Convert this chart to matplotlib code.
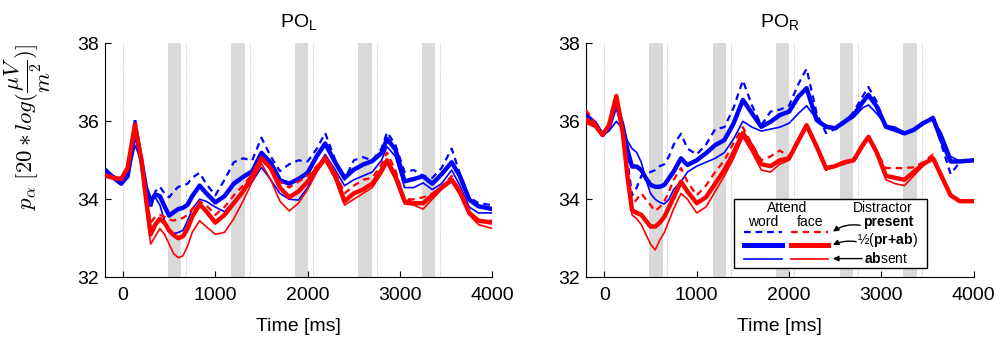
import matplotlib
matplotlib.use("Agg")
import matplotlib.pyplot as plt
import numpy as np

plt.rcParams['font.family'] = ['Liberation Sans', 'DejaVu Sans']
plt.rcParams['mathtext.fontset'] = 'custom'
plt.rcParams['mathtext.rm'] = 'Liberation Sans'
plt.rcParams['mathtext.bf'] = 'Liberation Sans:bold'
plt.rcParams['mathtext.it'] = 'Liberation Sans:italic'

# ---------------- data ----------------
time_ms = [-200, -100, -20, 50, 130, 200, 250, 300, 350, 400, 450, 500, 550, 600, 650, 700, 750, 830, 900,
           1000, 1100, 1200, 1300, 1400, 1500, 1600, 1700, 1800, 1900, 2000, 2100, 2190, 2300, 2400, 2500,
           2600, 2700, 2800, 2860, 2950, 3050, 3150, 3250, 3350, 3450, 3560, 3650, 3750, 3850, 4000]

# PO_L
L_word_present = [34.80, 34.60, 34.42, 34.64, 36.09, 35.11, 34.25, 33.75, 34.20, 34.32, 34.15, 34.05, 34.20, 34.32,
                  34.35, 34.40, 34.55, 34.68, 34.40, 34.10, 34.50, 34.95, 35.05, 35.00, 35.58, 35.10, 34.72, 34.90,
                  35.00, 34.97, 35.30, 35.70, 35.00, 34.50, 35.00, 35.08, 35.00, 35.30, 35.72, 35.40, 34.70, 34.75,
                  34.60, 34.55, 34.80, 35.30, 34.65, 34.05, 33.90, 33.85]
L_word_mean = [34.76, 34.55, 34.40, 34.59, 35.79, 34.98, 34.29, 33.95, 34.12, 34.08, 33.82, 33.58, 33.67, 33.75,
               33.78, 33.86, 34.08, 34.35, 34.16, 33.92, 34.08, 34.40, 34.57, 34.72, 35.19, 34.94, 34.49, 34.40,
               34.52, 34.68, 35.11, 35.43, 34.94, 34.55, 34.76, 34.89, 34.98, 35.19, 35.55, 35.28, 34.46, 34.52,
               34.59, 34.40, 34.64, 34.95, 34.59, 33.99, 33.82, 33.75]
L_word_absent = [34.78, 34.55, 34.42, 34.55, 35.38, 35.00, 34.30, 34.00, 34.05, 33.85, 33.45, 33.20, 33.12, 33.15,
                 33.20, 33.45, 33.75, 34.00, 33.95, 33.80, 33.68, 33.95, 34.20, 34.45, 34.82, 34.50, 34.15, 34.00,
                 33.98, 34.30, 34.80, 35.15, 34.75, 34.35, 34.50, 34.60, 34.70, 35.00, 35.35, 35.10, 34.30, 34.30,
                 34.42, 34.25, 34.40, 34.75, 34.35, 33.80, 33.65, 33.65]
L_face_present = [34.60, 34.50, 34.50, 34.80, 35.90, 35.00, 34.10, 33.40, 33.55, 33.60, 33.55, 33.48, 33.45, 33.50,
                  33.52, 33.60, 33.75, 33.95, 33.85, 33.60, 33.80, 34.10, 34.35, 34.65, 35.10, 34.80, 34.45, 34.30,
                  34.45, 34.60, 34.85, 35.10, 34.70, 34.15, 34.35, 34.50, 34.55, 34.90, 35.20, 34.75, 34.00, 34.00,
                  34.05, 34.15, 34.30, 34.60, 34.20, 33.65, 33.45, 33.45]
L_face_mean = [34.62, 34.55, 34.52, 34.80, 35.92, 35.00, 34.00, 33.10, 33.35, 33.50, 33.40, 33.20, 33.08, 33.00,
               33.05, 33.25, 33.55, 33.87, 33.70, 33.40, 33.60, 33.90, 34.20, 34.60, 35.05, 34.80, 34.30, 34.05,
               34.20, 34.45, 34.80, 35.05, 34.60, 33.95, 34.15, 34.25, 34.40, 34.75, 35.00, 34.60, 33.95, 33.90,
               33.90, 34.10, 34.30, 34.50, 34.20, 33.65, 33.45, 33.40]
L_face_absent = [34.65, 34.55, 34.50, 34.75, 35.90, 34.95, 33.80, 32.85, 33.05, 33.25, 33.10, 32.85, 32.60, 32.50,
                 32.55, 32.80, 33.15, 33.45, 33.30, 33.10, 33.15, 33.50, 33.95, 34.45, 34.92, 34.50, 33.95, 33.70,
                 33.90, 34.25, 34.70, 35.00, 34.50, 33.85, 34.00, 34.15, 34.30, 34.65, 34.92, 34.50, 33.88, 33.85,
                 33.75, 34.00, 34.25, 34.45, 34.10, 33.60, 33.35, 33.25]

# PO_R
R_word_present = [36.15, 35.95, 35.65, 35.88, 36.62, 35.90, 35.00, 34.10, 34.30, 34.60, 34.65, 34.70, 34.75, 34.85,
                  34.90, 35.10, 35.40, 35.68, 35.30, 35.15, 35.40, 35.80, 35.85, 36.35, 37.05, 36.40, 35.90, 36.25,
                  36.30, 36.40, 36.95, 37.35, 36.20, 35.70, 35.80, 35.95, 36.25, 36.65, 36.88, 36.50, 35.85, 35.78,
                  35.70, 35.80, 35.95, 36.12, 35.40, 34.65, 34.95, 35.00]
R_word_mean = [36.16, 35.95, 35.65, 35.86, 36.46, 35.86, 35.26, 34.84, 34.84, 34.75, 34.54, 34.37, 34.32, 34.32,
               34.37, 34.54, 34.71, 35.05, 34.88, 35.00, 35.18, 35.39, 35.52, 35.95, 36.55, 36.20, 35.86, 35.99,
               36.16, 36.25, 36.63, 36.85, 36.03, 35.86, 35.82, 35.99, 36.16, 36.50, 36.68, 36.38, 35.86, 35.78,
               35.69, 35.78, 35.95, 36.08, 35.52, 34.97, 34.97, 35.00]
R_word_absent = [36.15, 35.95, 35.65, 35.75, 36.00, 35.80, 35.50, 35.30, 35.20, 34.95, 34.50, 34.15, 34.00, 33.92,
                 33.88, 34.00, 34.25, 34.45, 34.70, 34.85, 34.95, 35.05, 35.20, 35.55, 36.00, 35.85, 35.75, 35.80,
                 35.85, 35.95, 36.20, 36.40, 36.05, 35.90, 35.85, 35.95, 36.10, 36.35, 36.42, 36.20, 35.90, 35.85,
                 35.72, 35.75, 35.95, 36.05, 35.70, 35.10, 34.98, 35.00]
R_face_present = [36.30, 35.95, 35.62, 35.90, 36.60, 35.70, 34.70, 33.85, 34.00, 34.15, 34.00, 33.85, 33.70, 33.80,
                  33.95, 34.20, 34.50, 34.80, 34.45, 34.10, 34.35, 34.70, 35.00, 35.45, 35.85, 35.40, 35.00, 35.10,
                  35.25, 35.10, 35.55, 35.90, 35.30, 34.75, 34.85, 34.95, 35.05, 35.35, 35.55, 35.20, 34.80, 34.80,
                  34.80, 34.82, 34.95, 35.15, 34.60, 34.10, 33.95, 33.95]
R_face_mean = [36.05, 35.90, 35.65, 35.90, 36.65, 35.70, 34.60, 33.72, 33.65, 33.60, 33.45, 33.30, 33.30, 33.40,
               33.55, 33.80, 34.05, 34.45, 34.20, 33.90, 34.05, 34.40, 34.75, 35.20, 35.70, 35.35, 34.90, 34.85,
               35.00, 35.05, 35.50, 35.90, 35.35, 34.80, 34.85, 34.95, 35.00, 35.40, 35.60, 35.20, 34.60, 34.55,
               34.50, 34.70, 34.90, 35.05, 34.60, 34.10, 33.95, 33.95]
R_face_absent = [35.95, 35.85, 35.62, 35.88, 36.62, 35.60, 34.40, 33.60, 33.50, 33.35, 33.10, 32.85, 32.70, 32.95,
                 33.15, 33.45, 33.75, 34.15, 34.00, 33.65, 33.80, 34.20, 34.60, 35.05, 35.60, 35.20, 34.75, 34.70,
                 34.90, 35.00, 35.45, 35.85, 35.30, 34.75, 34.85, 34.90, 35.00, 35.35, 35.60, 35.15, 34.50, 34.40,
                 34.35, 34.60, 34.85, 35.05, 34.60, 34.10, 33.95, 33.95]

band_starts = [485, 1175, 1860, 2548, 3237]
band_width = 145
onset_lines = [0, 682, 1372, 2058, 2746, 3435]

panel_titles = [r'PO$_{\mathregular{L}}$', r'PO$_{\mathregular{R}}$']
x_ticks = [0, 1000, 2000, 3000, 4000]
y_ticks = [32, 34, 36, 38]

# ---------------- figure ----------------
fig = plt.figure(figsize=(10, 3.5), dpi=100)
ax_l = fig.add_axes([0.1045, 0.208, 0.3878, 0.668])
ax_r = fig.add_axes([0.5859, 0.208, 0.3878, 0.668])

panels = [
    (ax_l, L_word_present, L_word_mean, L_word_absent, L_face_present, L_face_mean, L_face_absent),
    (ax_r, R_word_present, R_word_mean, R_word_absent, R_face_present, R_face_mean, R_face_absent),
]

BLUE = '#0000ff'
RED = '#ff0000'
dash = (0, (3.0, 2.2))

for i, (ax, wp, wm, wa, fp, fm, fa) in enumerate(panels):
    for s in band_starts:
        ax.axvspan(s, s + band_width, color='#d9d9d9', lw=0, zorder=0)
    for v in onset_lines:
        ax.axvline(v, color='#c8c8c8', lw=0.8, ls=(0, (1, 1)), zorder=0.5)
    ax.plot(time_ms, wp, color=BLUE, lw=1.6, ls=dash, zorder=2)
    ax.plot(time_ms, wa, color=BLUE, lw=1.2, zorder=2)
    ax.plot(time_ms, wm, color=BLUE, lw=3.2, zorder=3)
    ax.plot(time_ms, fp, color=RED, lw=1.6, ls=dash, zorder=4)
    ax.plot(time_ms, fa, color=RED, lw=1.2, zorder=4)
    ax.plot(time_ms, fm, color=RED, lw=3.2, zorder=5)

    ax.set_xlim(-200, 4000)
    ax.set_ylim(32, 38)
    ax.set_xticks(x_ticks)
    ax.set_yticks(y_ticks)
    ax.spines['top'].set_visible(False)
    ax.spines['right'].set_visible(False)
    ax.tick_params(direction='in', length=4, width=0.8, labelsize=14)
    ax.tick_params(axis='x', pad=7)
    ax.tick_params(axis='y', pad=4)
    ax.set_title(panel_titles[i], fontsize=14, pad=12)
    ax.set_xlabel('Time [ms]', fontsize=14, labelpad=10)

ax_l.set_ylabel(r'$p_\alpha\ [20*log(\dfrac{\mu V}{m^2})]$', fontsize=16.5, math_fontfamily='cm')
ax_l.yaxis.set_label_coords(-0.133, 0.64)

# ---------------- legend (custom box) ----------------
ax = ax_r
tr = ax.transAxes
box = plt.Rectangle((0.383, 0.040), 0.497, 0.293, transform=tr, fill=True, facecolor='white',
                    edgecolor='black', lw=1.0, zorder=10)
ax.add_patch(box)
fs = 10
ax.text(0.518, 0.295, 'Attend', transform=tr, ha='center', va='center', fontsize=fs, zorder=11)
ax.text(0.457, 0.238, 'word', transform=tr, ha='center', va='center', fontsize=fs, zorder=11)
ax.text(0.578, 0.238, 'face', transform=tr, ha='center', va='center', fontsize=fs, zorder=11)
ax.text(0.765, 0.295, 'Distractor', transform=tr, ha='center', va='center', fontsize=fs, zorder=11)
ax.text(0.714, 0.236, 'present', transform=tr, ha='left', va='center', fontsize=fs,
        fontweight='bold', zorder=11)
ax.text(0.699, 0.158, r'½($\mathbf{pr\!+\!ab}$)', transform=tr, ha='left', va='center', fontsize=fs,
        zorder=11)
ax.text(0.717, 0.0795, r'$\mathbf{ab}$sent', transform=tr, ha='left', va='center', fontsize=fs, zorder=11)

rows = [(0.195, 1.6, dash), (0.138, 3.6, '-'), (0.0795, 1.2, '-')]
for y, lw, ls in rows:
    ax.plot([0.408, 0.505], [y, y], transform=tr, color=BLUE, lw=lw, ls=ls, zorder=11, clip_on=False)
    ax.plot([0.529, 0.625], [y, y], transform=tr, color=RED, lw=lw, ls=ls, zorder=11, clip_on=False)

arrows = [((0.707, 0.222), (0.637, 0.195), 'arc3,rad=0.2'),
          ((0.697, 0.152), (0.637, 0.138), 'arc3,rad=0.15'),
          ((0.712, 0.0795), (0.637, 0.0795), 'arc3,rad=0')]
for tail, head, cs in arrows:
    ax.annotate('', xy=head, xytext=tail, xycoords=tr, textcoords=tr,
                arrowprops=dict(arrowstyle='-|>', color='black', lw=1.0, mutation_scale=8,
                                connectionstyle=cs, shrinkA=0, shrinkB=0), zorder=12)

fig.savefig('out.png', dpi=100)
